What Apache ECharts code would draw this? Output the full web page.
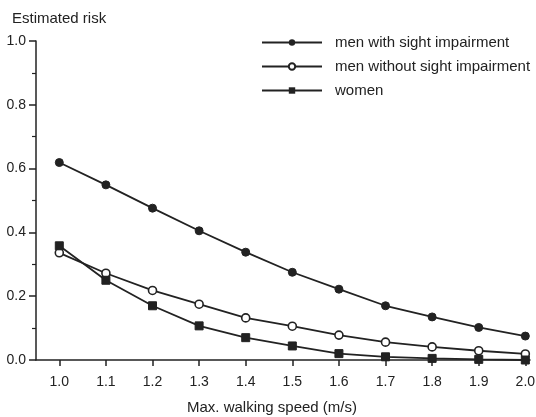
<!DOCTYPE html>
<html>
<head>
<meta charset="utf-8">
<script src="https://cdn.jsdelivr.net/npm/echarts@6/dist/echarts.min.js"></script>
<style>
  html, body { margin: 0; padding: 0; background: #fff; }
  #chart { width: 536px; height: 417px; }
</style>
</head>
<body>
<div id="chart"></div>
<script>
// walking speed (m/s)
const speeds = [1.0, 1.1, 1.2, 1.3, 1.4, 1.5, 1.6, 1.7, 1.8, 1.9, 2.0]
const menSight = [0.619, 0.549, 0.476, 0.405, 0.338, 0.275, 0.222, 0.170, 0.135, 0.102, 0.075]
const menNoSight = [0.336, 0.272, 0.218, 0.175, 0.132, 0.106, 0.078, 0.056, 0.041, 0.029, 0.019]
const women = [0.358, 0.250, 0.170, 0.107, 0.070, 0.044, 0.020, 0.010, 0.005, 0.002, 0.000]
const xTicks = [1.0, 1.1, 1.2, 1.3, 1.4, 1.5, 1.6, 1.7, 1.8, 1.9, 2.0]

const ink = '#222'
const font = 'Liberation Sans, Arial, sans-serif'

function pairs(vals) {
  return speeds.map((s, i) => [s, vals[i]])
}

const chart = echarts.init(document.getElementById('chart'))

chart.setOption({
  animation: false,
  textStyle: { fontFamily: font, color: ink },
  title: {
    text: 'Estimated risk',
    left: 7,
    top: 6,
    textStyle: { fontSize: 15, fontWeight: 'normal', color: ink, fontFamily: font }
  },
  legend: {
    orient: 'vertical',
    left: 256,
    top: 30,
    itemWidth: 60,
    itemHeight: 8,
    itemGap: 9,
    textStyle: { fontSize: 15, color: ink, fontFamily: font, padding: [0, 0, 0, 8] },
    data: ['men with sight impairment', 'men without sight impairment', 'women']
  },
  grid: { left: 36, right: 6, top: 41, bottom: 57, outerBoundsMode: 'none' },
  xAxis: {
    type: 'value',
    min: 0.95,
    max: 2.01,
    name: 'Max. walking speed (m/s)',
    nameLocation: 'middle',
    nameGap: 40,
    nameTextStyle: { fontSize: 15, color: ink, fontFamily: font, padding: [0, 22, 0, 0] },
    axisLine: { lineStyle: { color: ink, width: 1.5 } },
    axisTick: { customValues: xTicks, length: 6, lineStyle: { color: ink, width: 1.5 } },
    axisLabel: {
      customValues: xTicks,
      fontSize: 14,
      color: ink,
      margin: 15,
      formatter: v => v.toFixed(1)
    },
    splitLine: { show: false }
  },
  yAxis: {
    type: 'value',
    min: 0,
    max: 1,
    interval: 0.2,
    axisLine: { show: true, lineStyle: { color: ink, width: 1.5 } },
    axisTick: { show: true, length: 7, lineStyle: { color: ink, width: 1.5 } },
    minorTick: { show: true, splitNumber: 2, length: 4, lineStyle: { color: ink, width: 1.2 } },
    axisLabel: { fontSize: 14, color: ink, margin: 10, formatter: v => v.toFixed(1) },
    splitLine: { show: false }
  },
  series: [
    {
      name: 'men with sight impairment',
      type: 'line',
      data: pairs(menSight),
      symbol: 'circle',
      symbolSize: 8,
      lineStyle: { color: ink, width: 1.8 },
      itemStyle: { color: ink, borderColor: ink }
    },
    {
      name: 'men without sight impairment',
      type: 'line',
      data: pairs(menNoSight),
      symbol: 'circle',
      symbolSize: 8,
      lineStyle: { color: ink, width: 1.8 },
      itemStyle: { color: '#fff', borderColor: ink, borderWidth: 1.6 }
    },
    {
      name: 'women',
      type: 'line',
      data: pairs(women),
      symbol: 'rect',
      symbolSize: 8,
      lineStyle: { color: ink, width: 1.8 },
      itemStyle: { color: ink, borderColor: ink }
    }
  ]
})
</script>
</body>
</html>
